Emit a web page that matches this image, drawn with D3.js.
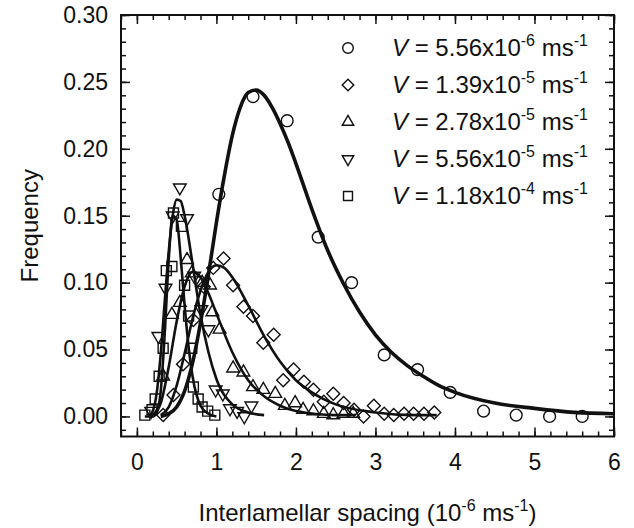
<!DOCTYPE html>
<html>
<head>
<meta charset="utf-8">
<script src="https://cdn.jsdelivr.net/npm/d3@7"></script>
<style>
  body { margin: 0; background: #fff; }
  svg { display: block; }
  text { font-family: "Liberation Sans", Arial, sans-serif; fill: #111; }
</style>
</head>
<body>
<div id="chart"></div>
<script>
// ---- data ----
var circX = [1.03, 1.46, 1.89, 2.28, 2.70, 3.11, 3.53, 3.94, 4.36, 4.77, 5.19, 5.60];
var circY = [0.166, 0.239, 0.221, 0.134, 0.100, 0.046, 0.035, 0.018, 0.004, 0.001, 0.000, 0.000];

var diamX = [0.33, 0.46, 0.58, 0.71, 0.84, 0.96, 1.09, 1.21, 1.34, 1.46, 1.59, 1.72, 1.84, 1.97,
             2.10, 2.22, 2.35, 2.47, 2.60, 2.73, 2.85, 2.98, 3.11, 3.23, 3.36, 3.48, 3.61, 3.74];
var diamY = [0.001, 0.016, 0.039, 0.072, 0.097, 0.111, 0.118, 0.098, 0.082, 0.075, 0.055, 0.061, 0.027, 0.035,
             0.026, 0.020, 0.011, 0.017, 0.010, 0.005, 0.000, 0.008, 0.002, 0.001, 0.002, 0.002, 0.002, 0.003];

var triX = [0.33, 0.44, 0.54, 0.63, 0.69, 0.82, 0.92, 0.95, 1.04, 1.21, 1.34, 1.46, 1.59, 1.74, 1.86, 1.99, 2.09, 2.22, 2.35, 2.47, 2.60, 2.72];
var triY = [0.030, 0.076, 0.085, 0.117, 0.107, 0.100, 0.098, 0.078, 0.065, 0.036, 0.033, 0.022, 0.020, 0.017, 0.008, 0.010, 0.005, 0.004, 0.002, 0.001, 0.002, 0.002];

var dtriX = [0.18, 0.27, 0.36, 0.45, 0.54, 0.63, 0.72, 0.81, 0.90, 0.99, 1.08, 1.17, 1.26, 1.35, 1.44];
var dtriY = [0.004, 0.060, 0.096, 0.150, 0.171, 0.148, 0.105, 0.080, 0.065, 0.020, 0.017, 0.006, 0.004, 0.000, 0.008];

var sqX = [0.10, 0.19, 0.23, 0.28, 0.33, 0.37, 0.44, 0.46, 0.56, 0.60, 0.65, 0.69, 0.71, 0.77, 0.82, 0.89, 0.98];
var sqY = [0.001, 0.005, 0.013, 0.030, 0.051, 0.109, 0.112, 0.152, 0.142, 0.098, 0.075, 0.051, 0.022, 0.013, 0.007, 0.004, 0.001];

// fitted curves, points
var fitCircX = [0.30, 0.40, 0.50, 0.60, 0.70, 0.80, 0.90, 1.00, 1.10, 1.20, 1.30, 1.40, 1.50, 1.60, 1.70, 1.80, 1.90, 2.00,
                2.20, 2.40, 2.60, 2.80, 3.00, 3.20, 3.40, 3.60, 3.80, 4.00, 4.50, 5.00, 5.50, 6.00];
var fitCircY = [0.000, 0.002, 0.007, 0.019, 0.040, 0.070, 0.106, 0.145, 0.180, 0.210, 0.231, 0.242, 0.244, 0.240, 0.231, 0.219, 0.205, 0.189,
                0.155, 0.124, 0.099, 0.078, 0.061, 0.048, 0.038, 0.030, 0.023, 0.018, 0.010, 0.006, 0.003, 0.002];

var fitDiamX = [0.30, 0.40, 0.50, 0.60, 0.70, 0.80, 0.90, 1.00, 1.10, 1.20, 1.40, 1.60, 1.80, 2.00, 2.20, 2.50, 3.00, 3.50, 3.77];
var fitDiamY = [0.001, 0.007, 0.023, 0.047, 0.073, 0.094, 0.108, 0.113, 0.111, 0.104, 0.083, 0.060, 0.041, 0.027, 0.018, 0.009, 0.003, 0.001, 0.001];

var fitTriX = [0.20, 0.30, 0.40, 0.50, 0.60, 0.70, 0.80, 0.90, 1.00, 1.20, 1.40, 1.60, 1.80, 2.00, 2.50, 2.75];
var fitTriY = [0.001, 0.010, 0.037, 0.071, 0.097, 0.108, 0.104, 0.092, 0.077, 0.048, 0.027, 0.015, 0.008, 0.004, 0.001, 0.001];

var fitDtriX = [0.15, 0.20, 0.25, 0.30, 0.35, 0.40, 0.45, 0.50, 0.55, 0.60, 0.70, 0.80, 0.90, 1.00, 1.20, 1.40, 1.60];
var fitDtriY = [0.000, 0.004, 0.018, 0.047, 0.086, 0.123, 0.150, 0.162, 0.161, 0.150, 0.114, 0.076, 0.048, 0.028, 0.009, 0.003, 0.001];

var fitSqX = [0.10, 0.20, 0.25, 0.30, 0.35, 0.40, 0.45, 0.50, 0.55, 0.60, 0.65, 0.70, 0.80, 0.90, 1.00];
var fitSqY = [0.000, 0.000, 0.003, 0.019, 0.062, 0.117, 0.150, 0.147, 0.119, 0.083, 0.052, 0.030, 0.008, 0.002, 0.000];

var legendLabels = [["5.56", "-6"], ["1.39", "-5"], ["2.78", "-5"], ["5.56", "-5"], ["1.18", "-4"]];
var xTicks = [0, 1, 2, 3, 4, 5, 6];
var yTicks = [0, 0.05, 0.10, 0.15, 0.20, 0.25, 0.30];

// ---- layout ----
var W = 634, H = 528;
var margin = {top: 15, right: 20, bottom: 91.5, left: 121};
var width = W - margin.left - margin.right,
    height = H - margin.top - margin.bottom;

var svg = d3.select("#chart").append("svg")
  .attr("width", W).attr("height", H);

var g = svg.append("g")
  .attr("transform", "translate(" + margin.left + "," + margin.top + ")");

var x = d3.scaleLinear().domain([-0.2, 6]).range([0, width]);
var y = d3.scaleLinear().domain([-0.015, 0.30]).range([height, 0]);

var minorX = d3.range(-0.2, 6.001, 0.2);
var minorY = d3.range(-0.01, 0.3001, 0.01);

function tickStyle(sel) {
  sel.select(".domain").remove();
  sel.selectAll("line").attr("stroke", "#111").attr("stroke-width", 1.5);
  sel.selectAll("text").attr("font-size", "23px").attr("fill", "#111")
     .attr("font-family", "Liberation Sans, Arial, sans-serif");
}

// minor ticks on all sides
g.append("g").attr("transform", "translate(0," + height + ")")
  .call(d3.axisBottom(x).tickValues(minorX).tickSize(-5).tickFormat("")).call(tickStyle);
g.append("g")
  .call(d3.axisTop(x).tickValues(minorX).tickSize(-5).tickFormat("")).call(tickStyle);
g.append("g")
  .call(d3.axisLeft(y).tickValues(minorY).tickSize(-5).tickFormat("")).call(tickStyle);
g.append("g").attr("transform", "translate(" + width + ",0)")
  .call(d3.axisRight(y).tickValues(minorY).tickSize(-5).tickFormat("")).call(tickStyle);

// major ticks
g.append("g").attr("transform", "translate(0," + height + ")")
  .call(d3.axisBottom(x).tickValues(xTicks).tickSize(-9).tickPadding(17).tickFormat(d3.format("d"))).call(tickStyle);
g.append("g")
  .call(d3.axisTop(x).tickValues(xTicks).tickSize(-9).tickFormat("")).call(tickStyle);
g.append("g")
  .call(d3.axisLeft(y).tickValues(yTicks).tickSize(-9).tickPadding(13).tickFormat(d3.format(".2f"))).call(tickStyle);
g.append("g").attr("transform", "translate(" + width + ",0)")
  .call(d3.axisRight(y).tickValues(yTicks).tickSize(-9).tickFormat("")).call(tickStyle);

// frame
g.append("rect").attr("x", 0).attr("y", 0).attr("width", width).attr("height", height)
  .attr("fill", "none").attr("stroke", "#111").attr("stroke-width", 2);

// fitted curves
var line = d3.line()
  .x(function(d) { return x(d[0]); })
  .y(function(d) { return y(d[1]); })
  .curve(d3.curveMonotoneX);

var fits = [
  {xs: fitSqX, ys: fitSqY, w: 2.6},
  {xs: fitDtriX, ys: fitDtriY, w: 2.6},
  {xs: fitTriX, ys: fitTriY, w: 2.6},
  {xs: fitDiamX, ys: fitDiamY, w: 2.6},
  {xs: fitCircX, ys: fitCircY, w: 3.6}
];
fits.forEach(function(f) {
  g.append("path")
    .datum(d3.zip(f.xs, f.ys))
    .attr("d", line)
    .attr("fill", "none")
    .attr("stroke", "#111")
    .attr("stroke-width", f.w)
    .attr("stroke-linejoin", "round");
});

// markers
var shapes = [
  {type: d3.symbolCircle, size: 110, rot: 0},
  {type: d3.symbolSquare, size: 84, rot: 45},
  {type: d3.symbolTriangle, size: 70, rot: 0},
  {type: d3.symbolTriangle, size: 70, rot: 180},
  {type: d3.symbolSquare, size: 100, rot: 0}
];
var series = [
  {xs: circX, ys: circY},
  {xs: diamX, ys: diamY},
  {xs: triX, ys: triY},
  {xs: dtriX, ys: dtriY},
  {xs: sqX, ys: sqY}
];

series.forEach(function(s, i) {
  var sh = shapes[i];
  g.append("g").selectAll("path")
    .data(d3.zip(s.xs, s.ys))
    .enter().append("path")
    .attr("d", d3.symbol().type(sh.type).size(sh.size))
    .attr("transform", function(d) {
      return "translate(" + x(d[0]) + "," + y(d[1]) + ") rotate(" + sh.rot + ")";
    })
    .attr("fill", "none")
    .attr("stroke", "#111")
    .attr("stroke-width", 1.4);
});

// legend
var leg = svg.append("g").attr("transform", "translate(348,48)");
legendLabels.forEach(function(lb, i) {
  var row = leg.append("g").attr("transform", "translate(0," + (i * 37) + ")");
  var sh = shapes[i];
  row.append("path")
    .attr("d", d3.symbol().type(sh.type).size(sh.size * 0.8))
    .attr("transform", "rotate(" + sh.rot + ")")
    .attr("fill", "none").attr("stroke", "#111").attr("stroke-width", 1.4);
  var t = row.append("text").attr("x", 44).attr("y", 8).attr("font-size", "24px");
  t.append("tspan").attr("font-style", "italic").text("V");
  t.append("tspan").text(" = " + lb[0] + "x10");
  t.append("tspan").attr("font-size", "16px").attr("dy", -10).text(lb[1]);
  t.append("tspan").attr("dy", 10).text(" ms");
  t.append("tspan").attr("font-size", "16px").attr("dy", -10).text("-1");
});

// axis titles
var xt = svg.append("text")
  .attr("x", margin.left + width / 2).attr("y", 521)
  .attr("text-anchor", "middle").attr("font-size", "24px");
xt.append("tspan").text("Interlamellar spacing (10");
xt.append("tspan").attr("font-size", "16px").attr("dy", -10).text("-6");
xt.append("tspan").attr("dy", 10).text(" ms");
xt.append("tspan").attr("font-size", "16px").attr("dy", -10).text("-1");
xt.append("tspan").attr("dy", 10).text(")");

svg.append("text")
  .attr("transform", "translate(38," + (margin.top + height / 2) + ") rotate(-90)")
  .attr("text-anchor", "middle").attr("font-size", "24px")
  .text("Frequency");
</script>
</body>
</html>
